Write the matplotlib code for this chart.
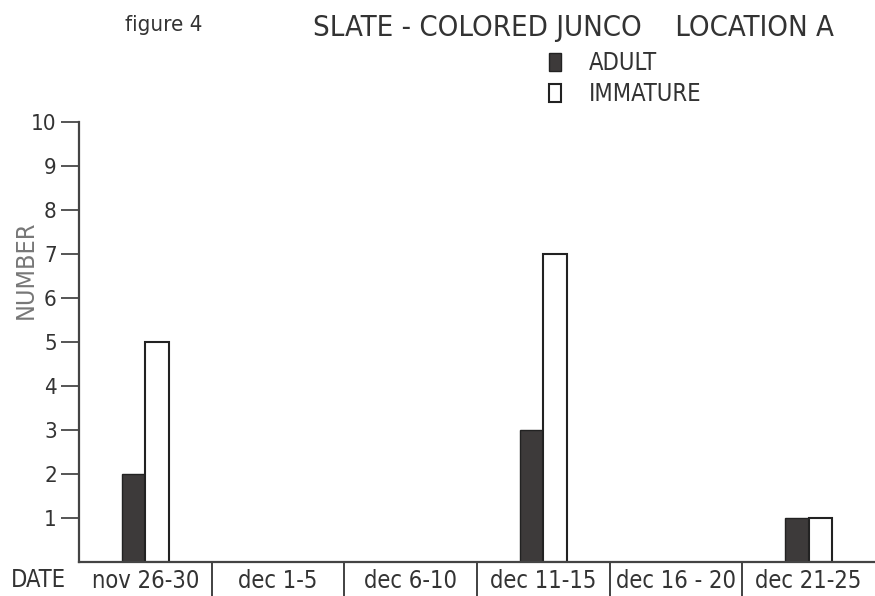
import numpy as np
import matplotlib.pyplot as plt
from matplotlib.patches import Patch

OUT = "out.png"

# values
periods = ["nov 26-30", "dec 1-5", "dec 6-10", "dec 11-15", "dec 16 - 20", "dec 21-25"]
adult = [2, 0, 0, 3, 0, 1]
immature = [5, 0, 0, 7, 0, 1]
yticks = list(range(1, 11))

FONT = ["DejaVu Sans"]
INK = "#333333"
DARK = "#3d3a3a"


def main():
    plt.rcParams["font.family"] = FONT
    plt.rcParams["font.stretch"] = "condensed"
    fig = plt.figure(figsize=(8.75, 5.96), dpi=100)
    ax = fig.add_axes([0.0903, 0.057, 0.9097, 0.738])

    x = np.arange(len(periods)) + 0.5
    w = 0.175
    nz = [i for i in range(len(periods)) if adult[i] or immature[i]]
    ax.bar(x[nz] - w / 2, [adult[i] for i in nz], width=w, color=DARK,
           edgecolor="#222222", linewidth=1.0)
    ax.bar(x[nz] + w / 2, [immature[i] for i in nz], width=w, color="white",
           edgecolor="#222222", linewidth=1.5)

    ax.set_xlim(0, 6)
    ax.set_ylim(0, 10)
    for s in ["top", "right"]:
        ax.spines[s].set_visible(False)
    ax.spines["left"].set_linewidth(1.6)
    ax.spines["bottom"].set_linewidth(1.6)
    ax.spines["left"].set_color("#444444")
    ax.spines["bottom"].set_color("#444444")

    ax.set_yticks(yticks)
    ax.set_yticklabels([str(v) for v in yticks], fontsize=16, color=INK)
    ax.tick_params(axis="y", direction="out", length=13, width=1.4,
                   color="#555555", pad=3)

    ax.set_xticks(x)
    ax.set_xticklabels(periods, fontsize=17, color=INK)
    ax.set_xticks(np.arange(1, len(periods)), minor=True)
    ax.tick_params(axis="x", which="major", length=0, pad=5)
    ax.tick_params(axis="x", which="minor", direction="out", length=26,
                   width=1.3, color="#333333")

    ax.set_ylabel("NUMBER", fontsize=18, color="#777777")
    ax.yaxis.set_label_coords(-0.052, 0.664)

    fig.text(0.012, 0.027, "DATE", fontsize=17, color=INK, va="center")
    fig.text(0.143, 0.958, "figure 4", fontsize=16, color=INK, va="center")
    fig.text(0.358, 0.953, "SLATE - COLORED JUNCO    LOCATION A",
             fontsize=21, color=INK, va="center")

    handles = [Patch(facecolor=DARK, edgecolor="#222222", label="ADULT"),
               Patch(facecolor="white", edgecolor="#222222", linewidth=1.5,
                     label="IMMATURE")]
    fig.legend(handles=handles, loc="upper left", bbox_to_anchor=(0.614, 0.934),
               frameon=False, fontsize=17, handlelength=0.5, handleheight=0.75,
               handletextpad=1.2, labelspacing=0.3, borderpad=0,
               labelcolor=INK)

    fig.savefig(OUT, dpi=100)


if __name__ == "__main__":
    main()
